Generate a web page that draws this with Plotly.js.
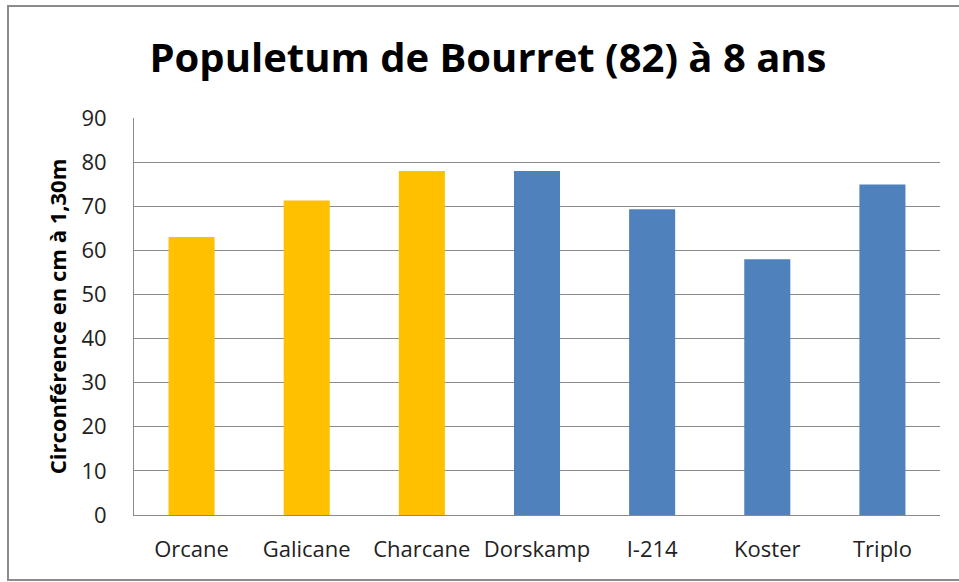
<!DOCTYPE html>
<html>
<head>
<meta charset="utf-8">
<script src="https://cdn.plot.ly/plotly-3.0.1.min.js"></script>
<style>
html,body{margin:0;padding:0;background:#fff;}
#chart{width:959px;height:582px;}
</style>
</head>
<body>
<div id="chart"></div>
<script>
const categories = ["Orcane", "Galicane", "Charcane", "Dorskamp", "I-214", "Koster", "Triplo"];
const groupA = ["Orcane", "Galicane", "Charcane"];
const groupAValues = [63, 71.3, 78];
const groupB = ["Dorskamp", "I-214", "Koster", "Triplo"];
const groupBValues = [78, 69.3, 58, 74.9];
const yTicks = [0, 10, 20, 30, 40, 50, 60, 70, 80, 90];

const W = 959, H = 582;
const L = 134, R = 19, T = 118, B = 67;
const pw = W - L - R, ph = H - T - B;
function px(x){ return (x - L) / pw; }
function py(y){ return (H - B - y) / ph; }

const traces = [
  {type:'bar', x: groupA, y: groupAValues, marker:{color:'#FFC000'}, hoverinfo:'x+y'},
  {type:'bar', x: groupB, y: groupBValues, marker:{color:'#4F81BD'}, hoverinfo:'x+y'}
];

const layout = {
  width: W, height: H,
  margin:{l:L, r:R, t:T, b:B, pad:0},
  paper_bgcolor:'#fff', plot_bgcolor:'#fff',
  showlegend:false,
  barmode:'overlay',
  bargap:0.6,
  font:{family:'"Open Sans", sans-serif', color:'#222'},
  title:{
    text:'Populetum de Bourret (82) à 8 ans',
    font:{family:'"Open Sans", sans-serif', size:40, color:'#000', weight:'bold'},
    xref:'container', x:488/959, xanchor:'center',
    yref:'container', y:1 - 58/582, yanchor:'middle'
  },
  xaxis:{
    type:'category', categoryorder:'array', categoryarray: categories,
    showline:true, linecolor:'#8a8a8a', linewidth:1,
    ticks:'', showgrid:false,
    tickfont:{size:22, color:'#222'},
    ticklabelstandoff:15
  },
  yaxis:{
    range:[0, 90], tickvals: yTicks, ticktext: yTicks.map(String),
    showline:true, linecolor:'#8a8a8a', linewidth:1,
    showgrid:true, gridcolor:'#8a8a8a', gridwidth:1,
    zeroline:false, ticks:'',
    tickfont:{size:22, color:'#222'},
    ticklabelstandoff:22,
    title:{text:'Circonférence en cm à 1,30m', font:{size:22, color:'#000', weight:'bold'}, standoff:8}
  },
  shapes:[
    {type:'rect', xref:'paper', yref:'paper', x0:px(8), x1:px(975), y0:py(580), y1:py(6),
     line:{color:'#8c8c8c', width:2}, fillcolor:'rgba(0,0,0,0)', layer:'below'}
  ]
};

Plotly.newPlot('chart', traces, layout, {displayModeBar:false, staticPlot:true});
</script>
</body>
</html>
